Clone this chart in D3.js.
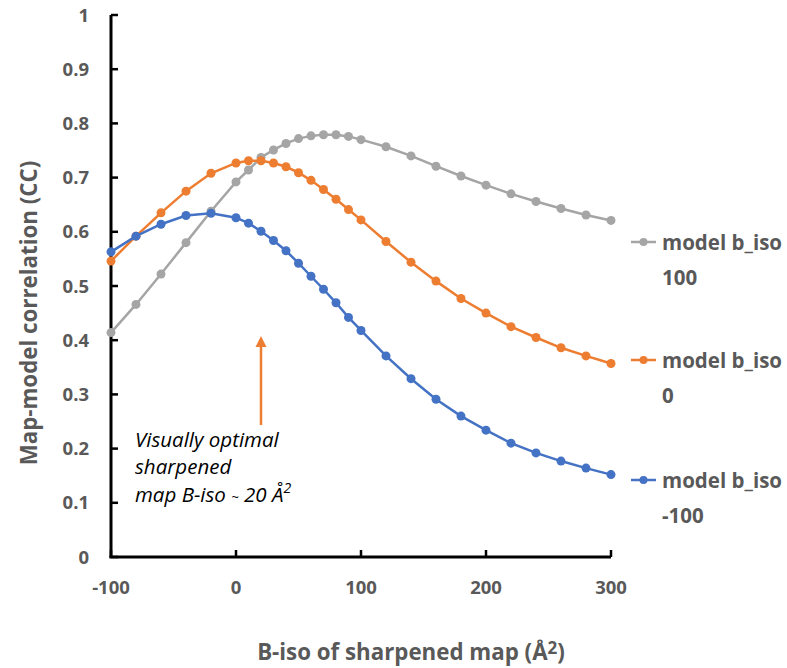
<!DOCTYPE html>
<html><head><meta charset="utf-8">
<script src="https://cdn.jsdelivr.net/npm/d3@7"></script>
<style>body{margin:0;background:#fff}svg{display:block}</style>
</head><body>
<svg id="c" width="787" height="668"></svg>
<script>
const xValues = [-100,-80,-60,-40,-20,0,10,20,30,40,50,60,70,80,90,100,120,140,160,180,200,220,240,260,280,300];
const gray100 = [0.414,0.466,0.522,0.580,0.638,0.692,0.714,0.737,0.751,0.763,0.772,0.777,0.779,0.779,0.776,0.770,0.757,0.740,0.721,0.703,0.686,0.670,0.656,0.643,0.631,0.621];
const orange0 = [0.546,0.592,0.635,0.675,0.708,0.727,0.731,0.731,0.727,0.720,0.709,0.695,0.678,0.660,0.641,0.622,0.582,0.544,0.509,0.477,0.450,0.425,0.405,0.386,0.371,0.357];
const blueM100 = [0.563,0.592,0.614,0.630,0.634,0.626,0.616,0.601,0.584,0.565,0.542,0.518,0.494,0.469,0.442,0.418,0.371,0.329,0.291,0.260,0.234,0.210,0.192,0.177,0.164,0.152];
const seriesNames = ["model b_iso 100","model b_iso 0","model b_iso -100"];
const xTicks = [-100,0,100,200,300];
const yTicks = [0,0.1,0.2,0.3,0.4,0.5,0.6,0.7,0.8,0.9,1];

const series = [
  {name:seriesNames[0], l1:"model b_iso", l2:"100", values:gray100, color:"#A5A5A5", ly:242},
  {name:seriesNames[1], l1:"model b_iso", l2:"0", values:orange0, color:"#ED7D31", ly:360},
  {name:seriesNames[2], l1:"model b_iso", l2:"-100", values:blueM100, color:"#4472C4", ly:480}
];

const svg = d3.select("#c");
const x = d3.scaleLinear().domain([-100,300]).range([111,611]);
const y = d3.scaleLinear().domain([0,1]).range([557,15]);
const font = "'Open Sans', sans-serif";
const tc = "#595959";

yTicks.forEach(t=>{
  svg.append("line").attr("x1",x(-100)).attr("x2",x(-100)+7).attr("y1",y(t)).attr("y2",y(t)).attr("stroke","#000").attr("stroke-width",2.5);
  svg.append("text").attr("x",89).attr("y",y(t)).attr("dy","0.36em").attr("text-anchor","end")
    .attr("font-family",font).attr("font-weight","bold").attr("font-size",18.5).attr("fill",tc).text(t);
});
xTicks.forEach(t=>{
  svg.append("line").attr("x1",x(t)).attr("x2",x(t)).attr("y1",y(0)).attr("y2",y(0)-7).attr("stroke","#000").attr("stroke-width",2.5);
  svg.append("text").attr("x",x(t)).attr("y",594).attr("text-anchor","middle")
    .attr("font-family",font).attr("font-weight","bold").attr("font-size",18.5).attr("fill",tc).text(t);
});
svg.append("line").attr("x1",x(-100)).attr("x2",x(-100)).attr("y1",y(0)+1).attr("y2",y(1)).attr("stroke","#000").attr("stroke-width",3);
svg.append("line").attr("x1",x(-100)-1.5).attr("x2",x(300)).attr("y1",y(0)).attr("y2",y(0)).attr("stroke","#000").attr("stroke-width",3);

const line = d3.line().x((d,i)=>x(xValues[i])).y(d=>y(d));
series.forEach(s=>{
  svg.append("path").attr("d",line(s.values)).attr("fill","none").attr("stroke",s.color).attr("stroke-width",2.5);
  svg.selectAll(null).data(s.values).enter().append("circle")
    .attr("cx",(d,i)=>x(xValues[i])).attr("cy",d=>y(d)).attr("r",4.5).attr("fill",s.color);
  svg.append("line").attr("x1",631).attr("x2",656).attr("y1",s.ly).attr("y2",s.ly).attr("stroke",s.color).attr("stroke-width",2.5);
  svg.append("circle").attr("cx",643.5).attr("cy",s.ly).attr("r",4).attr("fill",s.color);
  svg.append("text").attr("x",662).attr("y",s.ly+8).attr("font-family",font).attr("font-weight","bold")
    .attr("font-size",20.5).attr("fill",tc).text(s.l1);
  svg.append("text").attr("x",662).attr("y",s.ly+43).attr("font-family",font).attr("font-weight","bold")
    .attr("font-size",20.5).attr("fill",tc).text(s.l2);
});

svg.append("text").attr("transform","translate(37,313) rotate(-90)").attr("text-anchor","middle")
  .attr("font-family",font).attr("font-weight","bold").attr("font-size",22.3).attr("fill",tc).text("Map-model correlation (CC)");
const xt = svg.append("text").attr("x",411).attr("y",660).attr("text-anchor","middle")
  .attr("font-family",font).attr("font-weight","bold").attr("font-size",22.3).attr("fill",tc);
xt.append("tspan").text("B-iso of sharpened map (Å");
xt.append("tspan").attr("font-size",17).attr("dy",-6).text("2");
xt.append("tspan").attr("dy",6).text(")");

const ax = x(20);
svg.append("line").attr("x1",ax).attr("x2",ax).attr("y1",425).attr("y2",346).attr("stroke","#ED7D31").attr("stroke-width",2.5);
svg.append("path").attr("d",`M${ax},336 L${ax-5.5},347 L${ax+5.5},347 Z`).attr("fill","#ED7D31");

const annFs = 20.5;
svg.append("text").attr("x",135).attr("y",446.5).attr("font-family",font).attr("font-style","italic")
  .attr("font-size",annFs).attr("fill","#000").text("Visually optimal");
svg.append("text").attr("x",135).attr("y",473.5).attr("font-family",font).attr("font-style","italic")
  .attr("font-size",annFs).attr("fill","#000").text("sharpened");
const a3 = svg.append("text").attr("x",135).attr("y",501.5).attr("font-family",font).attr("font-style","italic")
  .attr("font-size",annFs).attr("fill","#000");
a3.append("tspan").text("map B-iso ");
a3.append("tspan").attr("font-size",13).text("~");
a3.append("tspan").text(" 20 Å");
a3.append("tspan").attr("font-size",14).attr("dy",-9).text("2");
</script>
</body></html>
